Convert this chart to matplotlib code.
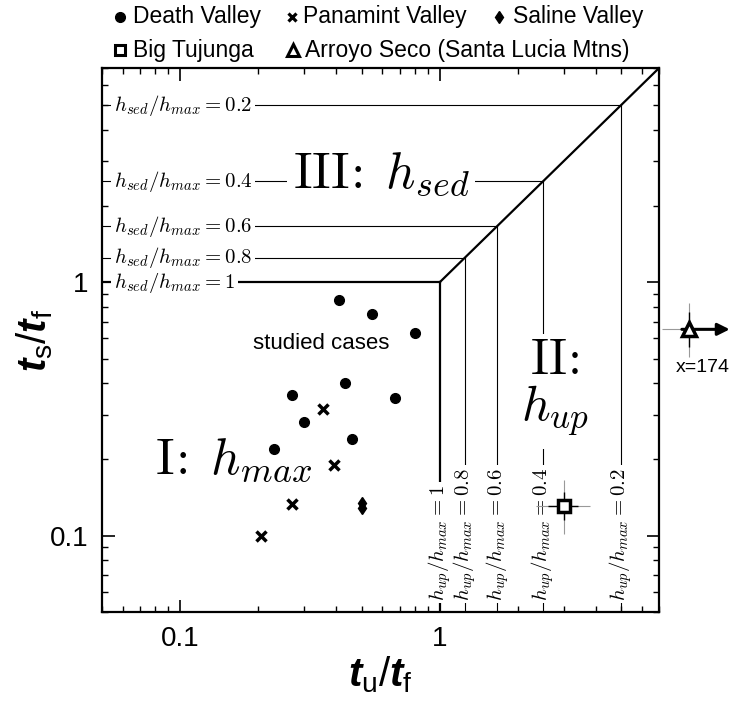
import matplotlib
matplotlib.use("Agg")
import matplotlib.pyplot as plt
from matplotlib.lines import Line2D

plt.rcParams["font.family"] = ["Liberation Sans", "DejaVu Sans"]
plt.rcParams["mathtext.fontset"] = "custom"
plt.rcParams["mathtext.it"] = "Liberation Sans:italic:bold"
plt.rcParams["mathtext.rm"] = "Liberation Sans"
plt.rcParams["mathtext.bf"] = "Liberation Sans:bold"

# --- data ---
death_x = [0.41, 0.55, 0.80, 0.43, 0.27, 0.67, 0.30, 0.46, 0.23]
death_y = [0.85, 0.75, 0.63, 0.40, 0.36, 0.35, 0.28, 0.24, 0.22]

panamint_x = [0.355, 0.39, 0.27, 0.205]
panamint_y = [0.315, 0.19, 0.133, 0.10]

saline_x = [0.5, 0.5]
saline_y = [0.135, 0.129]

# Big Tujunga: value, inner (solid) range, outer (dotted) range
tuj_x, tuj_y = 3.0, 0.131
tuj_x_in, tuj_x_out = (2.61, 3.41), (2.36, 3.79)
tuj_y_in, tuj_y_out = (0.115, 0.149), (0.102, 0.166)

# Arroyo Seco: real x = 174, drawn just outside the right edge
arr_x_real = 174
arr_x_draw, arr_y = 9.15, 0.652
arr_y_in, arr_y_out = (0.555, 0.76), (0.508, 0.83)
arr_x_low = 7.2

# height ratios for the regime boundaries
h_ratios = [1, 0.8, 0.6, 0.4, 0.2]
h_labels = ["1", "0.8", "0.6", "0.4", "0.2"]

lim = (0.05, 7)

fig = plt.figure(figsize=(7.41, 7.11), dpi=100)
ax = fig.add_axes([0.1377, 0.1392, 0.7517, 0.7651])
ax.set_xscale("log")
ax.set_yscale("log")
ax.set_xlim(*lim)
ax.set_ylim(*lim)

# regime boundaries: horizontal h_sed lines, vertical h_up lines, diagonal
for h, lab in zip(h_ratios, h_labels):
    v = 1.0 / h
    lw = 1.6 if h == 1 else 0.8
    ax.plot([lim[0], v], [v, v], color="black", lw=lw, zorder=1)
    ax.plot([v, v], [v, lim[0]], color="black", lw=lw, zorder=1)
    ax.text(0.0555, v, r"$h_{sed}/h_{max} = %s$" % lab, math_fontfamily="cm",
            fontsize=15, ha="left", va="center", zorder=3,
            bbox=dict(facecolor="white", edgecolor="none", pad=2))
    ax.text(v, 0.0555, r"$h_{up}/h_{max} = %s$" % lab, math_fontfamily="cm",
            fontsize=15, ha="center", va="bottom", rotation=90, zorder=3,
            bbox=dict(facecolor="white", edgecolor="none", pad=2))
ax.plot([1, lim[1]], [1, lim[1]], color="black", lw=1.6, zorder=1)

# region labels
ax.text(0.594, 2.35, r"$\mathrm{III}\!:\;h_{sed}$", math_fontfamily="cm",
        fontsize=37, ha="center", va="baseline", zorder=3,
        bbox=dict(facecolor="white", edgecolor="none", pad=4))
ax.text(0.161, 0.175, r"$\mathrm{I}\!:\;h_{max}$", math_fontfamily="cm",
        fontsize=37, ha="center", va="baseline", zorder=3)
ax.text(2.78, 0.3825, "$\\mathrm{II}\\!:$\n$h_{up}$", math_fontfamily="cm",
        fontsize=36, ha="center", va="center", linespacing=1.0, zorder=3,
        bbox=dict(facecolor="white", edgecolor="none", pad=8))
ax.text(0.349, 0.5755, "studied cases", fontsize=16, ha="center", va="center")

# data points
ax.plot(death_x, death_y, "o", color="black", ms=7, zorder=5)
ax.plot(panamint_x, panamint_y, "x", color="black", ms=6.5, mew=2.5, zorder=5)
ax.plot(saline_x, saline_y, "d", color="black", ms=6.5, zorder=5)

ax.errorbar(tuj_x, tuj_y,
            xerr=[[tuj_x - tuj_x_out[0]], [tuj_x_out[1] - tuj_x]],
            yerr=[[tuj_y - tuj_y_out[0]], [tuj_y_out[1] - tuj_y]],
            fmt="none", ecolor="#999999", elinewidth=0.8, ls=":", zorder=4)
ax.errorbar(tuj_x, tuj_y,
            xerr=[[tuj_x - tuj_x_in[0]], [tuj_x_in[1] - tuj_x]],
            yerr=[[tuj_y - tuj_y_in[0]], [tuj_y_in[1] - tuj_y]],
            fmt="none", ecolor="black", elinewidth=1.0, zorder=4)
ax.plot(tuj_x, tuj_y, "s", mfc="white", mec="black", mew=2.5, ms=8.5, zorder=6)

# Arroyo Seco, off the chart to the right
eb = ax.errorbar(arr_x_draw, arr_y,
                 xerr=[[arr_x_draw - arr_x_low], [0]],
                 yerr=[[arr_y - arr_y_out[0]], [arr_y_out[1] - arr_y]],
                 fmt="none", ecolor="#999999", elinewidth=0.8, ls=":", zorder=4)
for a in eb.get_children():
    a.set_clip_on(False)
eb = ax.errorbar(arr_x_draw, arr_y,
                 yerr=[[arr_y - arr_y_in[0]], [arr_y_in[1] - arr_y]],
                 fmt="none", ecolor="black", elinewidth=1.0, zorder=4)
for a in eb.get_children():
    a.set_clip_on(False)
ax.annotate("", xy=(13.1, arr_y), xytext=(8.57, arr_y), annotation_clip=False,
            arrowprops=dict(arrowstyle="-|>", color="black", lw=2.2,
                            mutation_scale=18, shrinkA=0, shrinkB=0), zorder=5)
ax.plot(arr_x_draw, arr_y, "^", mfc="white", mec="black", mew=2.5, ms=10,
        zorder=6, clip_on=False)
ax.text(10.33, 0.463, "x=%d" % arr_x_real, fontsize=14, ha="center", va="center")

# axes styling
ax.set_xticks([0.1, 1], labels=["0.1", "1"])
ax.set_yticks([0.1, 1], labels=["0.1", "1"])
ax.xaxis.set_minor_locator(matplotlib.ticker.LogLocator(subs=range(2, 10)))
ax.yaxis.set_minor_locator(matplotlib.ticker.LogLocator(subs=range(2, 10)))
ax.xaxis.set_minor_formatter(matplotlib.ticker.NullFormatter())
ax.yaxis.set_minor_formatter(matplotlib.ticker.NullFormatter())
ax.tick_params(which="both", direction="in", top=True, right=True,
               labelsize=20, pad=10)
ax.tick_params(which="major", length=9, width=1.2)
ax.tick_params(which="minor", length=4, width=1.0)
for s in ax.spines.values():
    s.set_linewidth(1.6)

ax.set_xlabel(r"$t_\mathrm{u}/t_\mathrm{f}$", fontsize=29, labelpad=2)
ax.set_ylabel(r"$t_\mathrm{s}/t_\mathrm{f}$", fontsize=29)
ax.yaxis.set_label_coords(-0.085, 0.5)

# legend drawn in figure pixels
W, H = 741, 711
leg_rows = [
    (17, [(120, 133, dict(marker="o", ms=7, mfc="black", mec="black"), "Death Valley"),
          (292, 303, dict(marker="x", ms=6, mew=2.3, mec="black"), "Panamint Valley"),
          (499, 513, dict(marker="d", ms=6.5, mfc="black", mec="black"), "Saline Valley")]),
    (50, [(120, 133, dict(marker="s", ms=7.5, mfc="white", mec="black", mew=2.2), "Big Tujunga"),
          (293, 305, dict(marker="^", ms=9, mfc="white", mec="black", mew=2.2),
           "Arroyo Seco (Santa Lucia Mtns)")]),
]
for yy, items in leg_rows:
    for mx, tx, style, name in items:
        fig.add_artist(Line2D([mx / W], [1 - yy / H], ls="none",
                              transform=fig.transFigure, **style))
        fig.text(tx / W, 1 - yy / H, name, fontsize=16.5, ha="left", va="center")

fig.savefig("out.png", dpi=100)
